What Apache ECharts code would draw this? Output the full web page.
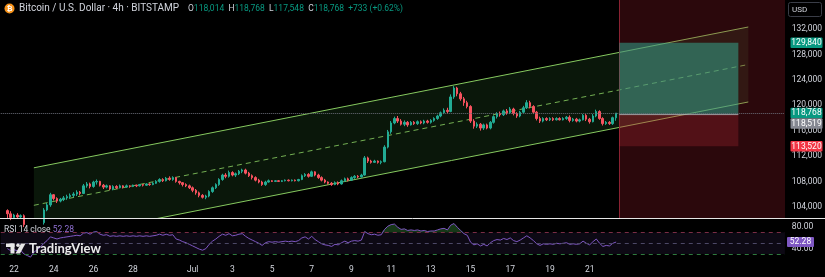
<!DOCTYPE html>
<html><head><meta charset="utf-8">
<script src="https://cdn.jsdelivr.net/npm/echarts@6/dist/echarts.min.js"></script>
<style>html,body{margin:0;padding:0;background:#000;}#c{width:825px;height:277px;}</style>
</head><body><div id="c"></div>
<script>
// ---------- DATA ----------
const startTime = Date.UTC(2025, 5, 21, 8);   // first 4h slot on the axis
const categoryCount = 238;                     // slots through end of visible range
const firstCandleSlot = 2;                     // first candle = Jun 21 16:00
// [open, close, low, high] per 4h candle, Jun 21 16:00 -> Jul 22 08:00
const candles = [
[103400,102900,102100,103600],[102900,102300,101900,103300],[102300,102700,102100,102900],[102700,102400,102200,103000],
[102400,102600,102200,102800],[102600,101200,100800,102800],[101200,100500,99800,101500],[100500,99200,98300,100900],
[99200,100100,98800,100500],[100100,100800,99700,101200],[100800,101500,100300,101900],[101500,103500,101200,103800],
[103500,104300,103300,104600],[104300,105900,104000,106200],[105900,105300,105000,106000],[105300,104900,104600,105500],
[104900,105200,104700,105400],[105200,105400,104900,105700],[105400,105600,105100,105900],[105600,105800,105300,106100],
[105800,106000,105500,106300],[106000,106300,105700,106600],[106300,106100,105800,106500],[106100,107300,106000,107600],
[107300,107600,107000,107900],[107600,107200,106900,107800],[107200,107900,107000,108100],[107900,108000,107500,108300],
[108000,107400,107200,108100],[107400,107100,106800,107600],[107100,107300,106900,107500],[107300,106800,106600,107400],
[106800,107200,106600,107400],[107200,107000,106800,107400],[107000,107300,106900,107500],[107300,107100,106900,107400],
[107100,107300,107000,107500],[107300,107200,107000,107400],[107200,107400,107100,107500],[107400,107300,107100,107500],
[107300,107500,107200,107600],[107500,107400,107200,107600],[107400,107600,107300,107700],[107600,107500,107300,107700],
[107500,107700,107400,107900],[107700,108000,107600,108200],[108000,108300,107800,108500],[108300,108100,107900,108500],
[108100,108500,108000,108700],[108500,108300,108100,108800],[108300,108600,108100,108800],[108600,108000,107800,108700],
[108000,107800,107500,108100],[107800,107500,107200,107900],[107500,107300,107100,107700],[107300,107000,106800,107500],
[107000,106600,106300,107200],[106600,106200,105900,106800],[106200,105800,105500,106400],[105800,105500,105300,106000],
[105500,105700,105200,105900],[105700,106400,105500,106600],[106400,107000,106200,107200],[107000,107500,106800,107700],
[107500,108300,107300,108500],[108300,109000,108100,109200],[109000,108800,108500,109300],[108800,109400,108600,109700],
[109400,109000,108800,109600],[109000,109200,108700,109400],[109200,109600,109000,109800],[109600,109800,109300,110000],
[109800,109300,109100,110000],[109300,108900,108700,109500],[108900,108600,108300,109100],[108600,108200,108000,108800],
[108200,107900,107700,108400],[107900,107500,107300,108100],[107500,107900,107300,108100],[107900,108100,107800,108300],
[108100,108000,107900,108200],[108000,108100,107900,108200],[108100,108000,107900,108200],[108000,108100,107900,108200],
[108100,108200,108000,108300],[108200,108100,108000,108300],[108100,108200,108000,108300],[108200,108100,108000,108300],
[108100,108300,108000,108400],[108300,108900,108200,109100],[108900,109100,108700,109300],[109100,108800,108600,109300],
[108800,109500,108700,109700],[109500,109000,108800,109600],[109000,108600,108400,109200],[108600,108200,108000,108800],
[108200,107900,107700,108400],[107900,107700,107500,108000],[107700,107500,107300,107900],[107500,107800,107400,108000],
[107800,107600,107400,108000],[107600,108100,107500,108300],[108100,108400,107900,108600],[108400,108200,108000,108600],
[108200,108600,108100,108800],[108600,108800,108400,109000],[108800,108700,108500,109000],[108700,109000,108600,109200],
[109000,111700,108900,112000],[111700,111200,110900,111900],[111200,111000,110800,111400],[111000,111200,110900,111400],
[111200,111000,110800,111300],[111000,111100,110700,111300],[111100,113400,111000,113700],[113400,115800,113200,116100],
[115800,117200,115500,117500],[117200,117900,117000,118200],[117900,117500,117200,118300],[117500,117000,116800,117800],
[117000,117300,116700,117600],[117300,116900,116600,117500],[116900,117300,116800,117500],[117300,117100,116900,117500],
[117100,117400,116900,117600],[117400,117200,117000,117600],[117200,117500,117000,117700],[117500,117300,117100,117700],
[117300,117600,117100,117800],[117600,117900,117400,118100],[117900,118300,117700,118500],[118300,118800,118100,119000],
[118800,119200,118600,119500],[119200,119000,118700,119600],[119000,121300,118900,121700],[121300,122700,121000,123000],
[122700,121800,121400,122900],[121800,121000,120700,122100],[121000,120400,119900,121300],[120400,119800,119500,120700],
[119800,117500,117200,120000],[117500,116700,116300,117800],[116700,117000,116400,117300],[117000,116400,116000,117200],
[116400,116900,116100,117100],[116900,116400,116200,117100],[116400,117300,116200,117500],[117300,118200,117100,118400],
[118200,118700,117900,118900],[118700,118500,118200,119000],[118500,119100,118300,119300],[119100,118800,118500,119400],
[118800,119400,118600,119700],[119400,118700,118400,119600],[118700,118300,118000,118900],[118300,118900,118100,119100],
[118900,119600,118700,119900],[119600,120400,119400,120800],[120400,119800,119500,120700],[119800,118900,118600,120000],
[118900,117900,117600,119100],[117900,117500,117200,118200],[117500,117900,117300,118100],[117900,117700,117500,118100],
[117700,117900,117500,118100],[117900,117700,117500,118100],[117700,117900,117600,118100],[117900,117700,117600,118100],
[117700,117900,117600,118100],[117900,118100,117700,118300],[118100,117600,117300,118400],[117600,117800,117400,118000],
[117800,117500,117300,118000],[117500,117700,117300,117900],[117700,118400,117600,118600],[118400,117800,117500,118600],
[117800,117400,117100,118000],[117400,118300,117300,118600],[118300,119000,118100,119300],[119000,117900,117700,119200],
[117900,117100,116800,118100],[117100,117300,116900,117500],[117300,117100,116900,117500],[117100,118035,116900,118200],
[118014,118768,117548,118768]
];
// RSI(14) per candle, same slots as candles
const rsiValues = [
40,36,38,36,37,30,27,24,33,38,43,50,55,62,60,58,60,61,62,63,64,65,64,69,70,67,71,72,67,65,66,63,
64,63,64,63,64,63,64,63,64,63,64,63,
64,65,67,65,67,65,66,
58,56,53,51,48,45,42,39,37,40,
48,54,58,63,67,65,68,64,65,67,68,
63,59,56,53,50,46,51,53,
52,53,52,53,54,53,54,53,55,
60,62,58,63,57,53,49,47,46,44,
48,47,51,54,51,54,55,54,56,
72,68,66,67,65,66,
76,82,85,86,
80,76,77,74,75,74,75,73,74,72,73,73,75,77,78,75,
84,87,80,74,68,65,
52,47,49,45,48,45,
51,55,57,56,59,57,
60,55,53,56,60,64,
60,55,49,46,49,48,
49,48,50,49,50,51,
48,49,48,49,54,50,
47,53,58,50,44,46,45,50,52.28
];
const tickDates  = ['6/22','6/24','6/26','6/28','7/1','7/3','7/5','7/7','7/9','7/11','7/13','7/15','7/17','7/19','7/21'];
const tickLabels = ['22','24','26','28','Jul','3','5','7','9','11','13','15','17','19','21'];
const priceTicks = [104000,108000,112000,116000,120000,124000,128000,132000];
const rsiTicks = [40, 80];
const rsiBands = [30, 50, 70];
const priceRange = [102236, 136567];
const rsiRange = [20.5, 95.5];
const channelDates = ['6/23 00:00', '7/29 00:00'];
const channelUpper = [110142, 132315];
const channelLower = [98330, 120504];
const positionDates = ['7/22 12:00', '7/28 12:00'];
const positionPrices = [113520, 118519, 129840]; // stop, entry, target
const highlightStart = '7/22 12:00';

// ---------- BUILD ----------
const FONT = 'Roboto, "Liberation Sans", "DejaVu Sans", sans-serif';
const TXT = '#d1d4dc';
const UP = '#22ab94', DOWN = '#f7525f';
function pad(n){return n<10?'0'+n:''+n;}
const categories = [];
for (let i=0;i<categoryCount;i++){
  const d = new Date(startTime + i*4*3600*1000);
  categories.push((d.getUTCMonth()+1)+'/'+d.getUTCDate()+' '+pad(d.getUTCHours())+':00');
}
const catIndex = n => categories.indexOf(n);
function labelFor(v){
  if (!v.endsWith(' 00:00')) return null;
  const i = tickDates.indexOf(v.split(' ')[0]);
  return i>=0 ? tickLabels[i] : null;
}
const candleData = categories.map((c,i)=>{const j=i-firstCandleSlot;return (j>=0&&j<candles.length)?candles[j]:['-','-','-','-'];});
const rsiData = categories.map((c,i)=>{const j=i-firstCandleSlot;return (j>=0&&j<rsiValues.length)?rsiValues[j]:'-';});
const obBase = rsiData.map(v=>v==='-'?'-':70);
const obExcess = rsiData.map(v=>v==='-'?'-':Math.max(0,v-70));
const last = candles[candles.length-1], prev = candles[candles.length-2];
const lastClose = last[1];
const change = lastClose - prev[1];
const fmt = v => v.toLocaleString('en-US');

function channelRender(params, api){
  const x0 = catIndex(channelDates[0]), x1 = catIndex(channelDates[1]);
  const u0 = api.coord([x0, channelUpper[0]]), u1 = api.coord([x1, channelUpper[1]]);
  const l0 = api.coord([x0, channelLower[0]]), l1 = api.coord([x1, channelLower[1]]);
  const m0 = api.coord([x0, (channelUpper[0]+channelLower[0])/2]), m1 = api.coord([x1, (channelUpper[1]+channelLower[1])/2]);
  const col = '#86c95f';
  return {type:'group', children:[
    {type:'polygon', shape:{points:[u0,u1,l1,l0]}, style:{fill:'rgba(76,175,80,0.13)'}},
    {type:'line', shape:{x1:u0[0],y1:u0[1],x2:u1[0],y2:u1[1]}, style:{stroke:col,lineWidth:1}},
    {type:'line', shape:{x1:l0[0],y1:l0[1],x2:l1[0],y2:l1[1]}, style:{stroke:col,lineWidth:1}},
    {type:'line', shape:{x1:m0[0],y1:m0[1],x2:m1[0],y2:m1[1]}, style:{stroke:col,lineWidth:1,lineDash:[5,4],opacity:0.85}}
  ]};
}
function regionRender(params, api){
  const xs = api.coord([catIndex(highlightStart), priceRange[1]])[0];
  const xe = api.coord([categoryCount-1, priceRange[1]])[0] + 2;
  const top = api.coord([0, priceRange[1]])[1], bot = api.coord([0, priceRange[0]])[1];
  return {type:'group', children:[
    {type:'rect', shape:{x:xs,y:top,width:xe-xs,height:bot-top}, style:{fill:'rgba(160,30,45,0.27)'}},
    {type:'line', shape:{x1:Math.round(xs)+0.5,y1:top,x2:Math.round(xs)+0.5,y2:bot}, style:{stroke:'#8a2232',lineWidth:1}}
  ]};
}
function positionRender(params, api){
  const x0 = api.coord([catIndex(positionDates[0]), positionPrices[1]])[0];
  const x1 = api.coord([catIndex(positionDates[1]), positionPrices[1]])[0];
  const yS = api.coord([0, positionPrices[0]])[1], yE = api.coord([0, positionPrices[1]])[1], yT = api.coord([0, positionPrices[2]])[1];
  return {type:'group', children:[
    {type:'rect', shape:{x:x0,y:yT,width:x1-x0,height:yE-yT}, style:{fill:'rgba(50,175,150,0.5)'}},
    {type:'rect', shape:{x:x0,y:yE,width:x1-x0,height:yS-yE}, style:{fill:'rgba(242,54,69,0.2)'}},
    {type:'line', shape:{x1:x0,y1:yE,x2:x1,y2:yE}, style:{stroke:'rgba(190,190,195,0.75)',lineWidth:1}}
  ]};
}

const chart = echarts.init(document.getElementById('c'), null, {width:825, height:277});
const axisLab = {color:TXT, fontSize:8.5, fontFamily:FONT};
chart.setOption({
  animation:false,
  backgroundColor:'#000',
  grid:[{left:0.77, top:0, width:784.1, height:218},{left:0.77, top:219, width:784.1, height:40}],
  xAxis:[
    {type:'category', gridIndex:0, data:categories, boundaryGap:false, show:false},
    {type:'category', gridIndex:1, data:categories, boundaryGap:false,
     axisLine:{show:false}, axisTick:{show:false}, splitLine:{show:false},
     axisLabel:Object.assign({interval:(i,v)=>labelFor(v)!==null, formatter:v=>labelFor(v)||'', margin:6}, axisLab)}
  ],
  yAxis:[
    {type:'value', gridIndex:0, position:'right', min:priceRange[0], max:priceRange[1],
     axisLine:{show:false}, axisTick:{show:false}, splitLine:{show:false},
     axisLabel:Object.assign({customValues:priceTicks, formatter:v=>fmt(v), margin:7}, axisLab)},
    {type:'value', gridIndex:1, position:'right', min:rsiRange[0], max:rsiRange[1],
     axisLine:{show:false}, axisTick:{show:false}, splitLine:{show:false},
     axisLabel:Object.assign({customValues:rsiTicks, formatter:v=>v.toFixed(2), margin:7}, axisLab)}
  ],
  series:[
    {type:'custom', name:'channel', xAxisIndex:0, yAxisIndex:0, z:1, clip:true, silent:true, renderItem:channelRender, data:[[0, priceRange[0]]]},
    {type:'custom', name:'region', xAxisIndex:0, yAxisIndex:0, z:2, clip:true, silent:true, renderItem:regionRender, data:[[0, priceRange[0]]]},
    {type:'custom', name:'position', xAxisIndex:0, yAxisIndex:0, z:3, clip:true, silent:true, renderItem:positionRender, data:[[0, priceRange[0]]]},
    {type:'candlestick', name:'BTCUSD', xAxisIndex:0, yAxisIndex:0, z:4, clip:true, barWidth:2,
     itemStyle:{color:UP, color0:DOWN, borderColor:UP, borderColor0:DOWN, borderWidth:1},
     data:candleData,
     markLine:{silent:true, symbol:['none','none'], label:{show:false},
       lineStyle:{type:'dotted', color:'#6a6d78', width:1},
       data:[{yAxis:lastClose}]}},
    {type:'line', name:'obBase', xAxisIndex:1, yAxisIndex:1, stack:'ob', data:obBase, symbol:'none', silent:true,
     lineStyle:{opacity:0}, z:2},
    {type:'line', name:'obFill', xAxisIndex:1, yAxisIndex:1, stack:'ob', data:obExcess, symbol:'none', silent:true,
     lineStyle:{opacity:0}, areaStyle:{color:'rgba(56,142,60,0.55)'}, z:2},
    {type:'line', name:'RSI', xAxisIndex:1, yAxisIndex:1, data:rsiData, symbol:'none', z:3,
     lineStyle:{color:'#7e57c2', width:1},
     markArea:{silent:true, itemStyle:{color:'rgba(126,87,194,0.1)'}, data:[[{yAxis:rsiBands[0]},{yAxis:rsiBands[2]}]]},
     markLine:{silent:true, symbol:['none','none'], label:{show:false},
       data:[
         {yAxis:rsiBands[2], lineStyle:{color:'#7a2d45', type:[4,4], width:1}},
         {yAxis:rsiBands[1], lineStyle:{color:'#4c4866', type:[4,4], width:1}},
         {yAxis:rsiBands[0], lineStyle:{color:'#2f7a3e', type:[4,4], width:1}}
       ]}}
  ]
});

// ---------- ANNOTATIONS (positions from the library's scales) ----------
const yPrice = v => chart.convertToPixel({xAxisIndex:0, yAxisIndex:0}, [0, v])[1];
const yRsi = v => chart.convertToPixel({xAxisIndex:1, yAxisIndex:1}, [0, v])[1];
const tags = [
  {value:positionPrices[2], color:'#089981'},
  {value:lastClose, color:'#089981'},
  {value:positionPrices[1], color:'#868993'},
  {value:positionPrices[0], color:'#f23645'}
].map(t=>Object.assign(t,{y:yPrice(t.value)})).sort((a,b)=>a.y-b.y);
const TH = 10.5;
for (let i=1;i<tags.length;i++){ if (tags[i].y < tags[i-1].y + TH) tags[i].y = tags[i-1].y + TH; }
const g = [];
tags.forEach(t=>{
  g.push({type:'rect', z:100, shape:{x:790.5, y:t.y-TH/2, width:32, height:TH, r:1}, style:{fill:t.color}});
  g.push({type:'text', z:101, x:806.5, y:t.y+0.3, style:{text:fmt(t.value), fill:'#fff', font:'8.5px '+FONT, textAlign:'center', textVerticalAlign:'middle'}});
});
const rsiLast = rsiValues[rsiValues.length-1];
const ry = yRsi(rsiLast);
g.push({type:'rect', z:100, shape:{x:787, y:ry-5, width:27, height:10, r:1}, style:{fill:'#7e57c2'}});
g.push({type:'text', z:101, x:800.5, y:ry+0.3, style:{text:rsiLast.toFixed(2), fill:'#fff', font:'8.5px '+FONT, textAlign:'center', textVerticalAlign:'middle'}});
// pane separator
g.push({type:'line', z:90, shape:{x1:0, y1:218.5, x2:825, y2:218.5}, style:{stroke:'#e6e6e6', lineWidth:1}});
// USD box
g.push({type:'rect', z:100, shape:{x:788.5, y:2.5, width:33, height:14, r:2}, style:{fill:'#000', stroke:'#3a3d47', lineWidth:1}});
g.push({type:'text', z:101, x:792, y:9.8, style:{text:'USD', fill:TXT, font:'8px '+FONT, textVerticalAlign:'middle'}});
// header
g.push({type:'circle', z:100, shape:{cx:9.5, cy:8.5, r:5}, style:{fill:'#f7931a'}});
g.push({type:'text', z:101, x:9.5, y:8.8, style:{text:'₿', fill:'#fff', font:'bold 7px '+FONT, textAlign:'center', textVerticalAlign:'middle'}});
g.push({type:'text', z:101, x:19, y:8.8, style:{text:'Bitcoin / U.S. Dollar · 4h · BITSTAMP', fill:TXT, font:'10px '+FONT, textVerticalAlign:'middle'}});
const ohlcText = '{l|O}{v|'+fmt(last[0])+'}  {l|H}{v|'+fmt(last[3])+'}  {l|L}{v|'+fmt(last[2])+'}  {l|C}{v|'+fmt(last[1])+'}  {v|'+(change>=0?'+':'')+fmt(change)+' ('+(change>=0?'+':'')+(change/prev[1]*100).toFixed(2)+'%)}';
g.push({type:'text', z:101, x:188, y:8.8, style:{text:ohlcText, textVerticalAlign:'middle', font:'8.5px '+FONT,
  rich:{l:{fill:TXT, font:'8.5px '+FONT}, v:{fill:'#089981', font:'8.5px '+FONT}}}});
// RSI legend
g.push({type:'text', z:101, x:4, y:229.5, style:{text:'{a|RSI 14 close} {b|'+rsiLast.toFixed(2)+'}', textVerticalAlign:'middle', font:'8.5px '+FONT,
  rich:{a:{fill:TXT, font:'8.5px '+FONT}, b:{fill:'#8e6fd0', font:'8.5px '+FONT}}}});
// TradingView watermark
g.push({type:'rect', z:100, shape:{x:6, y:243.5, width:8.5, height:3.5}, style:{fill:'#e8e8e8'}});
g.push({type:'rect', z:100, shape:{x:10.5, y:243.5, width:4, height:10}, style:{fill:'#e8e8e8'}});
g.push({type:'circle', z:100, shape:{cx:18, cy:245.3, r:1.8}, style:{fill:'#e8e8e8'}});
g.push({type:'polygon', z:100, shape:{points:[[15.5,253.5],[21,243.5],[25.5,243.5],[20,253.5]]}, style:{fill:'#e8e8e8'}});
g.push({type:'text', z:101, x:29, y:248.8, style:{text:'TradingView', fill:'#ececec', font:'bold 13px Lato, '+FONT, textVerticalAlign:'middle'}});
chart.setOption({graphic:{elements:g}});
</script>
</body></html>
